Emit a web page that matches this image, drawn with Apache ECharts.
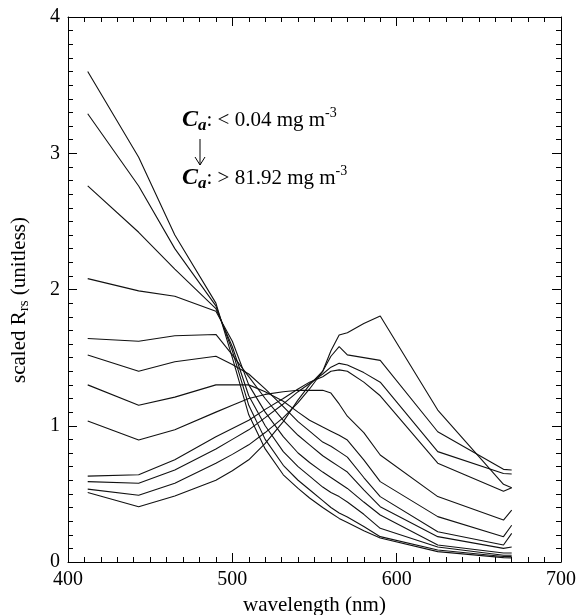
<!DOCTYPE html>
<html><head><meta charset="utf-8">
<script src="https://cdn.jsdelivr.net/npm/echarts@6/dist/echarts.min.js"></script>
<style>html,body{margin:0;padding:0;background:#fff}#c{width:584px;height:615px}</style>
</head><body><div id="c"></div>
<script>
// wavelengths (nm)
const wavelengths = [412, 443, 465, 490, 500, 510, 520, 531, 540, 547, 555, 560, 565, 570, 580, 590, 625, 665, 670];
// scaled Rrs spectra, lowest Ca (c1) to highest Ca (c12)
const c1  = [3.60, 2.97, 2.40, 1.90, 1.50, 1.08, 0.83, 0.64, 0.54, 0.47, 0.40, 0.36, 0.32, 0.29, 0.23, 0.176, 0.076, 0.032, 0.030];
const c2  = [3.29, 2.76, 2.30, 1.88, 1.55, 1.15, 0.90, 0.71, 0.60, 0.53, 0.45, 0.40, 0.36, 0.33, 0.26, 0.186, 0.088, 0.040, 0.040];
const c3  = [2.76, 2.42, 2.15, 1.86, 1.58, 1.22, 1.00, 0.81, 0.70, 0.63, 0.55, 0.51, 0.48, 0.44, 0.35, 0.247, 0.110, 0.050, 0.050];
const c4  = [2.08, 1.99, 1.95, 1.84, 1.62, 1.30, 1.10, 0.92, 0.80, 0.73, 0.66, 0.62, 0.58, 0.54, 0.44, 0.345, 0.125, 0.066, 0.066];
const c5  = [1.64, 1.62, 1.66, 1.67, 1.52, 1.36, 1.20, 1.04, 0.93, 0.86, 0.78, 0.74, 0.70, 0.66, 0.53, 0.406, 0.186, 0.100, 0.110];
const c6  = [1.52, 1.40, 1.47, 1.51, 1.45, 1.38, 1.27, 1.14, 1.03, 0.96, 0.88, 0.85, 0.81, 0.77, 0.62, 0.48, 0.222, 0.125, 0.210];
const c7  = [1.30, 1.15, 1.21, 1.30, 1.30, 1.30, 1.25, 1.18, 1.10, 1.04, 0.99, 0.96, 0.93, 0.895, 0.75, 0.59, 0.333, 0.186, 0.270];
const c8  = [1.035, 0.895, 0.97, 1.10, 1.15, 1.20, 1.23, 1.25, 1.26, 1.26, 1.26, 1.24, 1.16, 1.07, 0.95, 0.785, 0.48, 0.308, 0.380];
const c9  = [0.63, 0.64, 0.75, 0.92, 0.98, 1.04, 1.12, 1.20, 1.27, 1.32, 1.36, 1.40, 1.41, 1.40, 1.32, 1.22, 0.725, 0.52, 0.545];
const c10 = [0.59, 0.578, 0.675, 0.83, 0.90, 0.97, 1.06, 1.16, 1.25, 1.31, 1.38, 1.43, 1.458, 1.446, 1.39, 1.32, 0.81, 0.65, 0.646];
const c11 = [0.535, 0.49, 0.578, 0.724, 0.79, 0.86, 0.95, 1.06, 1.17, 1.27, 1.40, 1.51, 1.58, 1.52, 1.50, 1.48, 0.956, 0.68, 0.675];
const c12 = [0.51, 0.406, 0.485, 0.60, 0.67, 0.75, 0.87, 1.03, 1.19, 1.30, 1.40, 1.55, 1.666, 1.683, 1.75, 1.805, 1.115, 0.57, 0.545];
const spectra = [c1, c2, c3, c4, c5, c6, c7, c8, c9, c10, c11, c12];

const xRange = [400, 700];
const yRange = [0, 4];
const xTitle = 'wavelength (nm)';
const annotLow = ': < 0.04 mg m';
const annotHigh = ': > 81.92 mg m';

const font = 'Liberation Serif';
const chart = echarts.init(document.getElementById('c'), null, {renderer: 'canvas'});

function axisBase(show) {
  return {
    axisLine: {show: true, onZero: false, lineStyle: {color: '#000', width: 1}},
    axisTick: {show: true, inside: true, length: 9, lineStyle: {color: '#000', width: 1}},
    minorTick: {show: true, splitNumber: 10, length: 5, lineStyle: {color: '#000', width: 1}},
    splitLine: {show: false},
    minorSplitLine: {show: false},
    axisLabel: {show: show, color: '#000', fontFamily: font, fontSize: 20}
  };
}

const richAnnot = {
  C: {fontFamily: font, fontSize: 24, fontWeight: 'bold', fontStyle: 'italic', fill: '#000', lineHeight: 28, verticalAlign: 'middle'},
  a: {fontFamily: font, fontSize: 17, fontWeight: 'bold', fontStyle: 'italic', fill: '#000', lineHeight: 12, verticalAlign: 'bottom'},
  t: {fontFamily: font, fontSize: 21, fill: '#000', lineHeight: 28, verticalAlign: 'middle'},
  p: {fontFamily: font, fontSize: 14, fill: '#000', lineHeight: 12, verticalAlign: 'top'}
};

const option = {
  animation: false,
  backgroundColor: '#fff',
  grid: {left: 68, right: 23, top: 17, bottom: 53, containLabel: false, outerBoundsMode: 'none'},
  xAxis: [
    Object.assign(axisBase(true), {type: 'value', min: xRange[0], max: xRange[1], interval: 100, position: 'bottom',
      name: xTitle, nameLocation: 'middle', nameGap: 31,
      nameTextStyle: {color: '#000', fontFamily: font, fontSize: 21}}),
    Object.assign(axisBase(false), {type: 'value', min: xRange[0], max: xRange[1], interval: 100, position: 'top'})
  ],
  yAxis: [
    Object.assign(axisBase(true), {type: 'value', min: yRange[0], max: yRange[1], interval: 1, position: 'left'}),
    Object.assign(axisBase(false), {type: 'value', min: yRange[0], max: yRange[1], interval: 1, position: 'right'})
  ],
  series: spectra.map(function (d, k) {
    return {
      type: 'line', name: 'c' + (k + 1), xAxisIndex: 0, yAxisIndex: 0,
      data: wavelengths.map(function (w, i) { return [w, d[i]]; }),
      showSymbol: false, symbol: 'none', silent: true,
      lineStyle: {color: '#111', width: 1.1}
    };
  }),
  graphic: [
    {
      type: 'text', x: 19, y: 300, rotation: Math.PI / 2,
      style: {
        text: '{n|scaled R}{s|rs}{n| (unitless)}', align: 'center', verticalAlign: 'middle',
        rich: {
          n: {fontFamily: font, fontSize: 21, fill: '#000', lineHeight: 26, verticalAlign: 'middle'},
          s: {fontFamily: font, fontSize: 15, fill: '#000', lineHeight: 12, verticalAlign: 'bottom'}
        }
      }
    },
    {type: 'text', x: 182, y: 106, style: {text: '{C|C}{a|a}{t|' + annotLow + '}{p|-3}', rich: richAnnot}},
    {type: 'text', x: 182, y: 164, style: {text: '{C|C}{a|a}{t|' + annotHigh + '}{p|-3}', rich: richAnnot}},
    {type: 'line', shape: {x1: 200, y1: 139, x2: 200, y2: 165}, style: {stroke: '#000', lineWidth: 1}},
    {type: 'polyline', shape: {points: [[195, 157], [200, 165], [205, 157]]}, style: {stroke: '#000', lineWidth: 1, fill: null}}
  ]
};
chart.setOption(option);
</script>
</body></html>
